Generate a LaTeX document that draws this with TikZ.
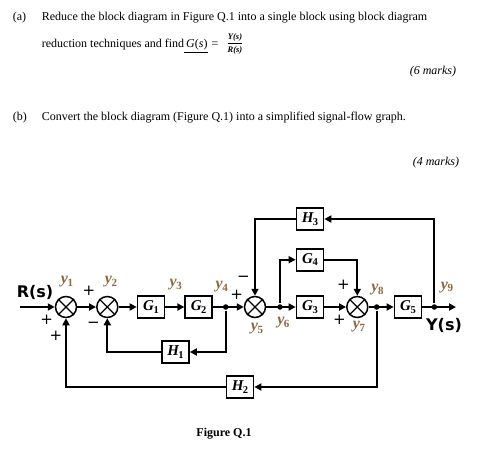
\documentclass[tikz,border=0pt]{standalone}
\usepackage{fontspec}
\setmainfont{Liberation Serif}
\newfontfamily\djsans{DejaVu Sans}
\usetikzlibrary{arrows.meta,calc}
\definecolor{ybrown}{RGB}{140,104,66}
\newcommand\yl[1]{\textcolor{ybrown}{\fontsize{16}{16}\selectfont\bfseries\itshape y\kern-0.5pt\raisebox{-2.5pt}{\fontsize{11}{11}\selectfont\upshape #1}}}
\newcommand\bl[2]{{\fontsize{15}{15}\selectfont\bfseries\itshape #1\kern-0.5pt\raisebox{-2.5pt}{\fontsize{10.5}{10.5}\selectfont\upshape #2}}}
\newcommand\smallfr[1]{\hbox{\fontsize{8.5}{8.5}\selectfont\bfseries\itshape #1}}
\begin{document}
\begin{tikzpicture}[x=1pt,y=-1pt,
  line width=1.8pt,
  >={Triangle[length=7pt,width=7pt]},
  blk/.style={draw,line width=1.7pt,minimum width=27pt,minimum height=22pt,inner sep=0pt,fill=white},
  sumj/.style={draw,circle,line width=1.5pt,minimum size=21pt,inner sep=0pt},
  dotp/.style={circle,fill,inner sep=0pt,minimum size=5.5pt},
  sgn/.style={font=\djsans\fontsize{15}{15}\selectfont,inner sep=0pt},
  sig/.style={font=\djsans\bfseries\fontsize{16}{16}\selectfont,inner sep=0pt},
  txt/.style={font=\fontsize{12}{14}\selectfont,inner sep=0pt}]
\useasboundingbox (0,0) rectangle (496,460);
% question text
\node[txt,anchor=base west] (qa) at (12,21) {(a)};
\node[txt,anchor=base west] (qa1) at (41,21) {Reduce the block diagram in Figure Q.1 into a single block using block diagram};
\node[txt,anchor=base west] (qa2) at (41,48) {reduction techniques and find\underline{\,\textit{G}(\textit{s})}\,\,=};
\node[inner sep=0pt] (frac) at (235,44) {$\displaystyle\frac{\smallfr{Y(s)}}{\smallfr{R(s)}}$};
\node[txt,anchor=base east] (m6) at (457,75) {\textit{(6 marks)}};
\node[txt,anchor=base west] (qb) at (12,121) {(b)};
\node[txt,anchor=base west] (qb1) at (41,121) {Convert the block diagram (Figure Q.1) into a simplified signal-flow graph.};
\node[txt,anchor=base east] (m4) at (460,165) {\textit{(4 marks)}};
% blocks
\node[sumj] (s1) at (66,307) {};
\node[sumj] (s2) at (107.3,307) {};
\node[sumj] (s3) at (255,307) {};
\node[sumj] (s4) at (357.3,307) {};
\foreach \s in {s1,s2,s3,s4}{
  \draw[line width=1.3pt] (\s.45) -- (\s.225);
  \draw[line width=1.3pt] (\s.135) -- (\s.315);
}
\node[blk] (G1) at (151,307) {\bl{G}{1}};
\node[blk] (G2) at (198.7,307) {\bl{G}{2}};
\node[blk] (G3) at (310,307) {\bl{G}{3}};
\node[blk] (G4) at (310,259.7) {\bl{G}{4}};
\node[blk] (G5) at (408,307) {\bl{G}{5}};
\node[blk] (H1) at (175.5,352) {\bl{H}{1}};
\node[blk] (H2) at (240,387) {\bl{H}{2}};
\node[blk] (H3) at (310,219) {\bl{H}{3}};
\node[dotp] (b4) at (225.7,307) {};
\node[dotp] (b6) at (280,307) {};
\node[dotp] (b8) at (376.7,307) {};
\node[dotp] (b9) at (434.3,307) {};
\coordinate (in) at (20,307);
\coordinate (out) at (456,307);
% connectors
\draw[->] (in) -- (s1);
\draw[->] (s1) -- (s2);
\draw[->] (s2) -- (G1);
\draw[->] (G1) -- (G2);
\draw[->] (G2) -- (s3);
\draw[->] (b4) |- (H1);
\draw[->] (H1) -| (s2);
\draw[->] (s3) -- (G3);
\draw[->] (b6) |- (G4);
\draw[->] (G4) -| (s4);
\draw[->] (G3) -- (s4);
\draw[->] (s4) -- (G5);
\draw[->] (b8) |- (H2);
\draw[->] (H2) -| (s1);
\draw[->] (G5) -- (out);
\draw[->] (b9) |- (H3);
\draw[->] (H3) -| (s3);
% labels
\node[sig] (Rs) at (35,292) {R(s)};
\node[sig] (Ys) at (444,325) {Y(s)};
\node (ly1) at (67,282) {\yl{1}};
\node (ly2) at (111,282) {\yl{2}};
\node (ly3) at (175.7,285) {\yl{3}};
\node (ly4) at (221.7,287) {\yl{4}};
\node (ly5) at (257,329) {\yl{5}};
\node (ly6) at (283.3,323) {\yl{6}};
\node (ly7) at (359,327) {\yl{7}};
\node (ly8) at (377.5,290) {\yl{8}};
\node (ly9) at (447,287.5) {\yl{9}};
\node[sgn] (p1) at (46.7,320) {+};
\node[sgn] (p2) at (56,336) {+};
\node[sgn] (p3) at (89,291) {+};
\node[sgn] (m1) at (93.3,325) {−};
\node[sgn] (p4) at (236.7,295) {+};
\node[sgn] (m2) at (243.5,279) {−};
\node[sgn] (p5) at (343.3,285) {+};
\node[sgn] (p6) at (339.3,320) {+};
\node[font=\bfseries\fontsize{12}{14}\selectfont] (fig) at (224,434) {Figure Q.1};
\end{tikzpicture}
\end{document}
